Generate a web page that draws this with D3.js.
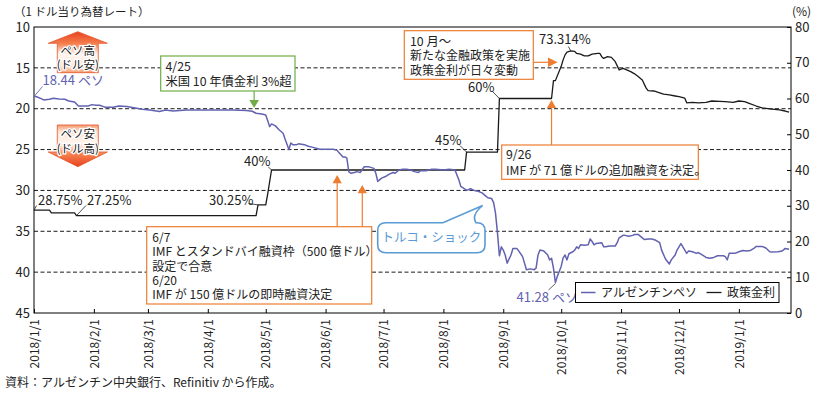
<!DOCTYPE html>
<html><head><meta charset="utf-8">
<script src="https://cdn.jsdelivr.net/npm/d3@7"></script>
<style>
body{margin:0;background:#fff;}
svg text{font-family:"Noto Sans CJK JP","Noto Sans",sans-serif;}
</style></head><body>
<svg id="c" width="817" height="395"></svg>
<script>
// ---- data ----
const rateSeries = [
["2018-01-01",28.75],["2018-01-09",28.75],["2018-01-10",28.0],["2018-01-22",28.0],["2018-01-23",27.25],
["2018-04-26",27.25],["2018-04-27",30.25],["2018-05-01",30.25],["2018-05-02",33.25],["2018-05-04",40],
["2018-08-12",40],["2018-08-13",45],["2018-08-29",45],["2018-08-30",60],["2018-09-26",60],["2018-09-27",65],
["2018-09-28",65],["2018-10-01",69.0],["2018-10-02",70.8],["2018-10-03",72.2],["2018-10-04",73.0],["2018-10-06",73.314],
["2018-10-08",73.2],["2018-10-09",72.6],["2018-10-11",72.4],["2018-10-13",71.9],["2018-10-15",71.9],["2018-10-17",72.4],
["2018-10-20",72.6],["2018-10-21",72.6],["2018-10-22",71.7],["2018-10-23",71.2],["2018-10-25",71.7],["2018-10-27",71.5],
["2018-10-29",70.3],["2018-10-31",68.0],["2018-11-02",68.4],["2018-11-03",68.2],["2018-11-06",67.5],["2018-11-08",66.9],
["2018-11-10",66.1],["2018-11-12",65.2],["2018-11-14",62.9],["2018-11-15",62.2],["2018-11-18",62.1],["2018-11-21",61.6],
["2018-11-23",61.2],["2018-11-26",61.0],["2018-11-29",60.7],["2018-12-01",60.5],["2018-12-04",60.1],["2018-12-05",58.8],
["2018-12-08",58.9],["2018-12-11",58.8],["2018-12-15",58.9],["2018-12-18",59.3],["2018-12-22",59.2],["2018-12-25",59.1],
["2018-12-29",58.9],["2019-01-01",59.3],["2019-01-04",59.1],["2019-01-06",58.7],["2019-01-10",57.9],["2019-01-13",57.4],
["2019-01-17",57.1],["2019-01-22",56.8],["2019-01-25",56.5],["2019-01-27",56.2]
];
const pesoSeries = [
["2018-01-01",18.44],["2018-01-03",18.6],["2018-01-05",18.8],["2018-01-06",18.92],["2018-01-09",18.84],["2018-01-11",18.72],
["2018-01-14",18.8],["2018-01-17",18.84],["2018-01-19",19.05],["2018-01-22",19.17],["2018-01-24",19.66],["2018-01-26",19.66],
["2018-01-29",19.66],["2018-01-31",19.5],["2018-02-02",19.57],["2018-02-04",19.57],["2018-02-06",19.74],["2018-02-07",19.82],
["2018-02-11",19.82],["2018-02-14",19.66],["2018-02-18",19.74],["2018-02-21",19.86],["2018-02-26",20.06],["2018-03-02",20.15],
["2018-03-07",20.35],["2018-03-10",20.15],["2018-03-14",20.27],["2018-03-21",20.15],["2018-03-28",20.15],["2018-04-05",20.15],
["2018-04-14",20.15],["2018-04-21",20.23],["2018-04-24",20.31],["2018-04-26",20.55],["2018-04-29",20.64],["2018-05-01",20.76],
["2018-05-02",21.45],["2018-05-03",22.19],["2018-05-04",21.86],["2018-05-06",22.1],["2018-05-08",22.6],["2018-05-10",23.0],
["2018-05-11",23.7],["2018-05-13",25.0],["2018-05-14",24.2],["2018-05-15",24.4],["2018-05-17",24.4],["2018-05-18",24.3],
["2018-05-21",24.4],["2018-05-23",24.6],["2018-05-25",24.7],["2018-05-29",24.95],["2018-06-01",24.95],["2018-06-05",24.95],
["2018-06-07",25.1],["2018-06-08",25.4],["2018-06-10",25.9],["2018-06-11",25.9],["2018-06-12",26.05],["2018-06-13",27.7],
["2018-06-14",27.9],["2018-06-16",27.8],["2018-06-17",27.7],["2018-06-19",27.8],["2018-06-21",27.1],["2018-06-23",27.1],
["2018-06-24",27.15],["2018-06-26",27.3],["2018-06-27",27.9],["2018-06-28",28.9],["2018-06-30",28.5],["2018-07-02",28.3],
["2018-07-04",28.0],["2018-07-06",27.8],["2018-07-07",27.9],["2018-07-09",27.5],["2018-07-11",27.4],["2018-07-13",27.4],
["2018-07-15",27.5],["2018-07-17",27.7],["2018-07-19",27.8],["2018-07-20",27.6],["2018-07-23",27.6],["2018-07-26",27.4],
["2018-07-28",27.4],["2018-08-01",27.5],["2018-08-04",27.4],["2018-08-07",27.5],["2018-08-08",28.1],["2018-08-09",28.7],
["2018-08-10",29.5],["2018-08-12",29.8],["2018-08-13",30.0],["2018-08-15",29.8],["2018-08-17",30.0],["2018-08-19",30.1],
["2018-08-21",30.3],["2018-08-23",30.7],["2018-08-24",30.9],["2018-08-26",31.0],["2018-08-27",31.5],["2018-08-28",32.8],
["2018-08-29",35.2],["2018-08-30",38.0],["2018-08-31",36.9],["2018-09-01",37.3],["2018-09-02",37.9],["2018-09-03",38.9],
["2018-09-05",37.9],["2018-09-06",37.1],["2018-09-08",37.1],["2018-09-09",37.4],["2018-09-11",38.1],["2018-09-12",38.9],
["2018-09-13",39.7],["2018-09-15",39.6],["2018-09-17",39.7],["2018-09-18",39.5],["2018-09-19",37.9],["2018-09-20",37.3],
["2018-09-22",37.4],["2018-09-24",37.9],["2018-09-25",38.5],["2018-09-26",38.3],["2018-09-27",39.5],["2018-09-28",41.28],
["2018-09-29",40.5],["2018-10-01",39.3],["2018-10-02",38.25],["2018-10-03",37.9],["2018-10-04",38.5],["2018-10-05",37.75],
["2018-10-07",37.5],["2018-10-08",37.3],["2018-10-09",36.9],["2018-10-10",37.1],["2018-10-11",36.65],["2018-10-13",36.7],
["2018-10-15",36.65],["2018-10-16",35.95],["2018-10-17",36.25],["2018-10-18",36.65],["2018-10-19",36.5],["2018-10-22",36.4],
["2018-10-23",36.9],["2018-10-24",36.9],["2018-10-26",36.8],["2018-10-29",36.8],["2018-10-30",36.4],["2018-10-31",35.8],
["2018-11-02",35.5],["2018-11-03",35.5],["2018-11-05",35.6],["2018-11-07",35.5],["2018-11-08",35.4],["2018-11-10",35.4],
["2018-11-12",35.8],["2018-11-13",36.0],["2018-11-15",35.95],["2018-11-17",35.95],["2018-11-19",36.1],["2018-11-21",36.4],
["2018-11-22",37.3],["2018-11-24",38.4],["2018-11-26",39.0],["2018-11-27",38.5],["2018-11-29",37.9],["2018-11-30",37.3],
["2018-12-01",36.9],["2018-12-02",36.5],["2018-12-04",37.3],["2018-12-05",37.7],["2018-12-06",37.4],["2018-12-08",37.5],
["2018-12-10",37.7],["2018-12-11",37.6],["2018-12-13",37.9],["2018-12-15",38.2],["2018-12-17",38.3],["2018-12-19",38.2],
["2018-12-21",38.0],["2018-12-24",38.0],["2018-12-25",38.1],["2018-12-26",38.5],["2018-12-27",37.7],["2018-12-30",37.7],
["2019-01-01",37.5],["2019-01-03",37.35],["2019-01-05",37.4],["2019-01-07",37.35],["2019-01-09",37.05],["2019-01-10",36.85],
["2019-01-13",36.85],["2019-01-15",37.05],["2019-01-17",37.5],["2019-01-18",37.55],["2019-01-21",37.5],["2019-01-23",37.45],
["2019-01-24",37.3],["2019-01-25",37.1],["2019-01-27",37.2]
];
const leftTicks = [10,15,20,25,30,35,40,45];
const rightTicks = [0,10,20,30,40,50,60,70,80];
const xTickDates = ["2018-01-01","2018-02-01","2018-03-01","2018-04-01","2018-05-01","2018-06-01","2018-07-01",
  "2018-08-01","2018-09-01","2018-10-01","2018-11-01","2018-12-01","2019-01-01"];
const xDomain = ["2018-01-01","2019-01-28"];
const seriesNames = ["アルゼンチンペソ","政策金利"];
const rateLabels = [["2018-01-01",28.75,"28.75%"],["2018-01-23",27.25,"27.25%"],["2018-04-27",30.25,"30.25%"],
  ["2018-05-04",40,"40%"],["2018-08-13",45,"45%"],["2018-08-30",60,"60%"],["2018-10-06",73.314,"73.314%"]];
const pesoLabels = [["2018-01-01",18.44,"18.44 ペソ"],["2018-09-28",41.28,"41.28 ペソ"]];

// ---- chart ----
const FONT = '"Noto Sans CJK JP","Noto Sans",sans-serif';
const P = d3.timeParse("%Y-%m-%d");
const svg = d3.select("#c");
const L = 34, R = 791, T = 27, B = 313;
const x = d3.scaleTime().domain(xDomain.map(P)).range([L, R]);
const yL = d3.scaleLinear().domain([10,45]).range([T,B]);
const yR = d3.scaleLinear().domain([0,80]).range([B,T]);
const ORANGE = "#ed7d31", GREEN = "#70ad47", BLUE = "#5b9bd5", PESO = "#6262b0";

// grid
svg.append("g").selectAll("line").data(leftTicks.filter(v => v > 10 && v < 45)).join("line")
  .attr("x1", L).attr("x2", R).attr("y1", d => yL(d)).attr("y2", d => yL(d))
  .attr("stroke", "#000").attr("stroke-width", 0.9).attr("stroke-dasharray", "4,2.5");

// axes
const gL = svg.append("g").attr("transform", `translate(${L},0)`)
  .call(d3.axisLeft(yL).tickValues(leftTicks).tickSize(0).tickPadding(4));
gL.select(".domain").remove();
gL.attr("font-family", FONT).attr("font-size", 13);
gL.selectAll("text").attr("fill", "#222");

const gR = svg.append("g").attr("transform", `translate(${R},0)`)
  .call(d3.axisRight(yR).tickValues(rightTicks).tickSizeInner(-4).tickSizeOuter(0).tickPadding(4));
gR.select(".domain").remove();
gR.attr("font-family", FONT).attr("font-size", 13);
gR.selectAll("text").attr("fill", "#222");

const gB = svg.append("g").attr("transform", `translate(0,${B})`)
  .call(d3.axisBottom(x).tickValues(xTickDates.map(P)).tickFormat(d3.timeFormat("%Y/%-m/%-d"))
    .tickSizeInner(-4).tickSizeOuter(0));
gB.select(".domain").remove();
gB.attr("font-family", FONT).attr("font-size", 12);
gB.selectAll("text").attr("transform", "rotate(-90)").attr("x", -6).attr("y", 0)
  .attr("dy", "0.35em").attr("text-anchor", "end").attr("fill", "#222");

svg.append("rect").attr("x", L).attr("y", T).attr("width", R - L).attr("height", B - T)
  .attr("fill", "none").attr("stroke", "#000").attr("stroke-width", 1);

// series
const rateLine = d3.line().x(d => x(P(d[0]))).y(d => yR(d[1]));
const pesoLine = d3.line().x(d => x(P(d[0]))).y(d => yL(d[1]));
svg.append("path").datum(rateSeries).attr("d", rateLine).attr("fill", "none")
  .attr("stroke", "#1a1a1a").attr("stroke-width", 1.3).attr("stroke-linejoin", "round");
svg.append("path").datum(pesoSeries).attr("d", pesoLine).attr("fill", "none")
  .attr("stroke", PESO).attr("stroke-width", 1.5).attr("stroke-linejoin", "round");

// helpers
function text(xp, yp, s, o = {}) {
  return svg.append("text").attr("x", xp).attr("y", yp).text(s)
    .attr("font-size", o.size || 12).attr("fill", o.fill || "#222")
    .attr("text-anchor", o.anchor || "start");
}
function seg(x1, y1, x2, y2, col, w = 0.9) {
  svg.append("line").attr("x1", x1).attr("y1", y1).attr("x2", x2).attr("y2", y2)
    .attr("stroke", col).attr("stroke-width", w);
}
function tri(pts, col) {
  svg.append("path").attr("d", "M" + pts.map(p => p.join(",")).join("L") + "Z").attr("fill", col);
}
function box(xp, yp, w, h, col, sw = 1.2) {
  svg.append("rect").attr("x", xp).attr("y", yp).attr("width", w).attr("height", h)
    .attr("fill", "#fff").attr("stroke", col).attr("stroke-width", sw);
}

// titles
text(14, 16, "（1 ドル当り為替レート）", {size: 11.5});
text(792, 16, "(%)", {size: 12});
text(5, 387, "資料：アルゼンチン中央銀行、Refinitiv から作成。", {size: 12});

// rate labels
const rl = rateLabels.map(d => ({px: x(P(d[0])), py: yR(d[1]), s: d[2]}));
const rlPos = [[38, 205, 36.5, 205.5], [87, 205, 86, 205.5], [209, 205, 248.5, 203.5],
  [244, 166, 268.3, 167], [435, 145, 460, 145.5], [468, 91.5, 493, 92], [539, 43.5, 568.3, 46.5]];
rl.forEach((d, i) => {
  const p = rlPos[i];
  text(p[0], p[1], d.s, {size: 13});
  seg(p[2], p[3], d.px, d.py, "#222", 0.8);
});

// peso labels
const pl = pesoLabels.map(d => ({px: x(P(d[0])), py: yL(d[1]), s: d[2]}));
text(42.5, 85, pl[0].s, {size: 13, fill: PESO});
seg(42.5, 86.5, pl[0].px + 0.5, pl[0].py, PESO, 0.9);
text(516.5, 302, pl[1].s, {size: 13, fill: PESO});
seg(548.5, 290, pl[1].px, pl[1].py + 1, "#333", 0.8);

// 4/25 annotation (green)
const x425 = x(P("2018-04-25"));
box(160.7, 56, 134.3, 35, GREEN);
text(165.5, 71, "4/25", {size: 12.3});
text(165.5, 86, "米国 10 年債金利 3%超", {size: 12.3});
seg(x425, 91, x425, 101, GREEN, 1.2);
tri([[x425 - 4.8, 100], [x425 + 4.8, 100], [x425, 108]], GREEN);

// 10月 annotation
box(404.3, 30.7, 129, 48.6, ORANGE);
text(410, 45.5, "10 月～", {size: 12.3});
text(410, 60, "新たな金融政策を実施", {size: 12});
text(410, 74.5, "政策金利が日々変動", {size: 12});
seg(533.3, 62.3, 549, 62.3, ORANGE, 1.2);
tri([[548, 57.5], [557.5, 62.3], [548, 67.1]], ORANGE);

// 9/26 annotation
const x926 = x(P("2018-09-26"));
box(501.7, 145, 196.6, 34.3, ORANGE);
text(506, 159, "9/26", {size: 12.3});
text(506, 174.5, "IMF が 71 億ドルの追加融資を決定。", {size: 12.2});
seg(x926, 145, x926, 107, ORANGE, 1.2);
tri([[x926 - 4.6, 108], [x926 + 4.6, 108], [x926, 100]], ORANGE);

// 6/7, 6/20 annotation
const x607 = x(P("2018-06-07")), x620 = x(P("2018-06-20"));
box(146.7, 226.7, 225, 77.3, ORANGE);
const l67 = ["6/7", "IMF とスタンドバイ融資枠（500 億ドル）", "設定で合意", "6/20", "IMF が 150 億ドルの即時融資決定"];
l67.forEach((s, i) => text(152.3, 242 + i * 14.3, s, {size: 12}));
seg(x607, 226.7, x607, 182, ORANGE, 1.2);
tri([[x607 - 4.6, 183.3], [x607 + 4.6, 183.3], [x607, 175]], ORANGE);
seg(x620, 226.7, x620, 192, ORANGE, 1.2);
tri([[x620 - 4.6, 193.3], [x620 + 4.6, 193.3], [x620, 185]], ORANGE);

// Turkey shock callout
svg.append("path")
  .attr("d", "M386,222.7 H443 L482.7,205.5 Q471,215 476,222.7 H477 Q485,222.7 485,230.7 V244.7 Q485,252.7 477,252.7 H386 Q377.7,252.7 377.7,244.7 V230.7 Q377.7,222.7 386,222.7 Z")
  .attr("fill", "#fff").attr("stroke", BLUE).attr("stroke-width", 1.6);
text(431.3, 242, "トルコ・ショック", {size: 12.5, fill: BLUE, anchor: "middle"});

// peso up/down arrows
const defs = svg.append("defs");
const gu = defs.append("linearGradient").attr("id", "gUp").attr("x1", 0).attr("y1", 0).attr("x2", 0).attr("y2", 1);
[[0, "#e8411e"], [0.3, "#f5814f"], [0.55, "#fff6ef"], [0.85, "#fde3d3"], [1, "#f59a70"]]
  .forEach(s => gu.append("stop").attr("offset", s[0]).attr("stop-color", s[1]));
const gd = defs.append("linearGradient").attr("id", "gDn").attr("x1", 0).attr("y1", 1).attr("x2", 0).attr("y2", 0);
[[0, "#e8411e"], [0.3, "#f5814f"], [0.55, "#fff6ef"], [0.85, "#fde3d3"], [1, "#f59a70"]]
  .forEach(s => gd.append("stop").attr("offset", s[0]).attr("stop-color", s[1]));
svg.append("path").attr("d", "M77.8,31.7 L107.3,43.3 L98.3,43.3 L98.3,72.7 L57.3,72.7 L57.3,43.3 L48.3,43.3 Z")
  .attr("fill", "url(#gUp)").attr("stroke", "#e5532a").attr("stroke-width", 0.8);
svg.append("path").attr("d", "M57.3,125 L98.3,125 L98.3,152 L107.3,152 L77.8,166.7 L48.3,152 L57.3,152 Z")
  .attr("fill", "url(#gDn)").attr("stroke", "#e5532a").attr("stroke-width", 0.8);
function halo(xp, yp, s) {
  text(xp, yp, s, {size: 11.5, anchor: "middle", fill: "#222"})
    .attr("stroke", "#fff").attr("stroke-width", 2.5).attr("paint-order", "stroke");
}
halo(77.8, 55, "ペソ高");
halo(77.8, 68.5, "(ドル安)");
halo(77.8, 137.5, "ペソ安");
halo(77.8, 152.5, "(ドル高)");

// legend
box(575.5, 282.5, 203.5, 20, "#000", 1);
seg(581, 292.5, 595.5, 292.5, PESO, 1.5);
text(601, 297, seriesNames[0], {size: 12});
seg(706.5, 292.5, 721.5, 292.5, "#1a1a1a", 1.3);
text(727, 297, seriesNames[1], {size: 12});
</script>
</body></html>
